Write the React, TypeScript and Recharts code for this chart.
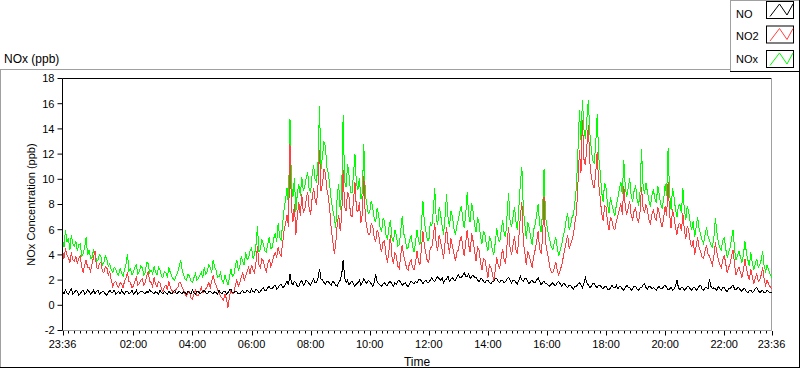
import React from 'react';
import { LineChart, Line, XAxis, YAxis, ReferenceLine, Legend } from 'recharts';

// 3-minute samples starting at 23:36 (481 points = 24 h); one row = one hour
const START_MIN = 23 * 60 + 36;
const STEP_MIN = 3;

const NOX_VALUES = [
  5.2, 4.6, 6.0, 5.0, 5.3, 4.4, 5.6, 4.9, 4.7, 5.1, 4.3, 4.8, 4.9, 3.9, 4.1, 4.6, 5.4, 4.0, 4.4, 3.7,
  3.8, 4.4, 4.2, 3.5, 3.6, 4.0, 3.9, 3.2, 3.4, 3.9, 3.7, 3.1, 3.3, 2.8, 2.6, 3.0, 2.9, 2.5, 2.4, 2.9,
  2.6, 2.3, 2.8, 3.3, 4.1, 2.7, 2.9, 2.4, 2.6, 3.0, 3.2, 2.5, 2.7, 3.1, 3.0, 2.4, 2.6, 3.4, 3.3, 2.6,
  2.8, 2.5, 3.1, 2.6, 2.4, 3.0, 2.8, 2.3, 2.2, 2.7, 2.6, 2.2, 3.0, 2.6, 2.3, 2.1, 2.0, 2.4, 2.6, 3.1,
  3.6, 2.8, 2.4, 2.1, 2.0, 2.5, 2.3, 1.9, 1.8, 2.2, 2.5, 2.0, 2.1, 2.4, 2.6, 2.2, 3.0, 2.5, 2.7, 3.2,
  3.0, 2.6, 3.6, 3.0, 2.8, 2.2, 2.3, 2.6, 2.0, 1.8, 2.4, 2.0, 1.6, 2.2, 2.9, 2.3, 2.4, 3.1, 3.6, 2.8,
  3.0, 3.9, 3.5, 3.2, 4.2, 3.6, 3.8, 4.3, 4.6, 3.7, 4.0, 4.8, 6.3, 4.2, 4.5, 5.2, 4.9, 4.3, 4.2, 4.9,
  5.4, 4.5, 4.6, 5.3, 5.7, 5.0, 6.5, 5.4, 5.2, 6.4, 7.6, 8.4, 9.3, 7.9, 14.8, 9.6, 8.6, 10.1, 7.4, 8.9,
  9.6, 8.7, 10.2, 9.1, 9.4, 10.1, 10.6, 9.2, 9.0, 10.4, 11.1, 10.0, 9.8, 11.4, 15.8, 10.8, 11.8, 13.0, 12.6, 10.9,
  10.5, 9.4, 8.3, 7.6, 7.0, 6.1, 8.8, 9.6, 7.6, 8.9, 15.1, 9.8, 9.4, 11.2, 10.3, 9.0, 8.9, 10.4, 12.0, 9.6,
  9.2, 10.1, 8.4, 9.0, 12.8, 8.8, 8.1, 7.3, 7.4, 8.3, 7.8, 6.9, 6.6, 7.7, 7.2, 6.2, 5.8, 6.9, 6.7, 5.6,
  5.2, 6.2, 6.8, 5.4, 5.0, 6.0, 5.6, 4.7, 4.8, 5.9, 7.1, 5.7, 5.3, 4.5, 4.6, 5.2, 5.5, 4.7, 4.2, 5.0,
  6.0, 5.2, 4.8, 6.4, 8.3, 6.6, 5.9, 5.2, 5.1, 6.6, 6.3, 7.4, 9.3, 6.9, 6.4, 7.8, 7.2, 6.3, 5.6, 7.1,
  8.8, 7.0, 6.2, 7.5, 7.0, 6.1, 5.6, 6.3, 6.8, 7.4, 7.9, 6.8, 6.1, 7.2, 9.0, 7.1, 6.6, 8.1, 7.4, 6.4,
  5.8, 7.0, 6.5, 5.5, 4.9, 5.9, 5.6, 4.8, 4.3, 5.4, 5.2, 4.4, 4.0, 5.0, 6.1, 5.3, 5.0, 5.9, 6.8, 5.7,
  5.4, 7.2, 8.9, 6.7, 6.2, 7.0, 7.8, 6.6, 6.0, 7.8, 9.7, 11.0, 7.6, 6.4, 5.3, 6.6, 6.1, 5.4, 4.8, 6.0,
  6.4, 7.2, 8.0, 6.5, 5.8, 7.4, 10.8, 7.0, 6.3, 5.6, 5.1, 4.6, 4.4, 5.0, 5.4, 4.5, 3.9, 4.4, 4.8, 5.5,
  6.0, 6.8, 7.3, 6.0, 6.4, 7.0, 7.2, 8.3, 9.5, 12.4, 15.5, 13.1, 16.3, 14.0, 13.2, 14.8, 16.3, 13.7, 12.4, 11.5,
  11.3, 12.8, 15.2, 11.8, 10.6, 9.0, 8.2, 9.7, 9.3, 8.0, 7.3, 8.6, 8.0, 7.5, 7.1, 8.0, 8.5, 9.2, 9.8, 8.8,
  11.5, 9.4, 8.6, 9.3, 10.1, 8.7, 8.2, 9.1, 9.5, 8.4, 7.9, 9.0, 12.4, 9.6, 8.8, 9.7, 9.0, 8.3, 7.8, 8.7,
  9.2, 8.5, 8.1, 9.5, 8.8, 8.0, 7.7, 8.4, 9.6, 8.7, 12.5, 8.9, 7.6, 9.3, 8.6, 7.6, 7.0, 7.9, 8.0, 7.3,
  9.3, 7.6, 6.8, 7.9, 7.4, 6.5, 6.0, 6.7, 5.4, 6.2, 7.0, 6.1, 5.6, 5.2, 4.9, 5.6, 6.2, 5.5, 5.2, 4.8,
  4.6, 5.4, 6.9, 5.8, 5.0, 4.6, 4.4, 5.1, 5.4, 4.5, 3.8, 4.2, 4.6, 5.3, 6.0, 4.4, 3.6, 4.0, 4.3, 3.8,
  3.4, 4.0, 5.1, 4.2, 3.6, 3.1, 4.2, 3.4, 2.8, 3.3, 3.7, 3.0, 3.2, 3.6, 4.3, 3.1, 2.7, 3.2, 2.8, 2.5,
  2.2,
];

const NO2_VALUES = [
  4.4, 3.7, 4.5, 4.0, 3.8, 3.4, 4.2, 3.6, 3.5, 3.9, 3.3, 3.7, 3.9, 3.1, 2.6, 3.2, 3.6, 3.0, 3.0, 2.7,
  3.3, 3.8, 4.3, 3.0, 2.9, 3.3, 3.4, 2.7, 2.6, 3.1, 3.0, 2.4, 2.7, 2.0, 1.5, 1.8, 1.9, 1.6, 1.4, 1.8,
  1.7, 1.4, 1.9, 2.2, 2.6, 1.9, 1.8, 1.4, 1.5, 1.9, 2.2, 1.6, 1.7, 2.0, 2.1, 1.6, 1.8, 2.3, 2.7, 1.9,
  1.8, 1.5, 2.2, 1.7, 1.5, 1.9, 1.8, 1.3, 1.1, 1.5, 1.6, 1.2, 1.9, 1.4, 1.2, 1.0, 1.0, 1.3, 1.4, 1.8,
  1.8, 1.4, 1.2, 0.9, 0.7, 1.0, 1.1, 0.6, 0.5, 0.9, 1.2, 0.8, 0.8, 1.1, 1.4, 1.0, 1.1, 1.3, 1.5, 1.8,
  1.4, 1.9, 2.4, 1.8, 1.6, 1.2, 1.0, 0.7, 0.6, 0.4, 0.9, 0.5, -0.2, 0.6, 1.3, 0.9, 1.0, 1.6, 2.0, 1.5,
  1.8, 2.2, 2.6, 2.0, 2.3, 2.7, 3.0, 2.5, 3.2, 2.8, 2.6, 3.4, 4.7, 3.2, 3.0, 3.7, 3.5, 3.0, 2.7, 3.3,
  3.7, 3.1, 3.4, 3.9, 4.2, 3.8, 4.6, 4.1, 3.9, 4.9, 5.9, 6.5, 7.2, 6.2, 12.8, 7.8, 6.6, 8.0, 5.6, 7.1,
  8.2, 7.1, 8.8, 7.4, 7.6, 8.4, 9.0, 7.7, 7.2, 8.5, 9.3, 8.4, 8.0, 9.6, 12.3, 9.1, 9.6, 10.8, 10.5, 9.2,
  8.6, 7.5, 6.0, 5.1, 4.1, 4.9, 6.4, 7.2, 5.9, 7.0, 10.7, 7.8, 7.5, 9.0, 8.6, 7.2, 7.0, 8.3, 9.8, 7.6,
  7.4, 8.2, 6.5, 7.3, 10.3, 7.0, 6.2, 5.6, 5.6, 6.5, 6.3, 5.4, 5.0, 6.0, 5.7, 4.8, 4.2, 5.0, 5.1, 4.0,
  3.4, 4.3, 5.6, 3.9, 3.3, 4.2, 3.9, 3.1, 2.9, 4.0, 4.8, 3.9, 3.5, 2.9, 2.8, 3.4, 3.6, 3.0, 2.8, 3.4,
  4.3, 3.5, 3.2, 4.5, 5.9, 4.7, 4.1, 3.5, 3.4, 4.6, 4.6, 5.4, 6.5, 4.9, 4.3, 5.6, 5.0, 4.4, 3.7, 5.0,
  6.2, 4.9, 4.1, 5.3, 4.7, 4.1, 3.5, 4.2, 4.4, 5.1, 5.5, 4.6, 3.9, 5.0, 6.0, 4.8, 4.2, 5.7, 5.1, 4.3,
  3.5, 4.6, 4.4, 3.4, 2.8, 3.7, 3.6, 2.9, 2.2, 3.2, 3.0, 2.5, 1.9, 2.8, 3.8, 3.2, 2.9, 3.8, 4.5, 3.6,
  3.3, 4.9, 6.2, 4.6, 4.0, 4.8, 5.5, 4.4, 4.1, 5.5, 7.1, 8.2, 5.0, 4.2, 3.2, 4.3, 3.9, 3.4, 3.0, 3.9,
  4.4, 5.1, 5.9, 4.5, 4.1, 5.3, 8.6, 5.0, 4.3, 3.7, 3.0, 2.6, 2.6, 3.0, 3.4, 2.7, 2.4, 2.8, 3.2, 3.8,
  4.4, 5.0, 5.6, 4.5, 4.8, 5.2, 5.7, 6.6, 7.4, 9.8, 12.3, 10.5, 14.7, 11.6, 11.1, 12.6, 14.3, 11.4, 10.2, 9.6,
  9.3, 10.5, 12.2, 9.6, 8.6, 7.3, 6.7, 7.9, 7.8, 6.6, 6.0, 7.0, 6.7, 6.1, 6.0, 6.7, 7.1, 7.6, 8.1, 7.2,
  9.5, 7.8, 7.2, 7.7, 8.3, 7.1, 6.8, 7.5, 7.7, 6.9, 6.6, 7.4, 9.4, 7.8, 7.3, 8.0, 7.6, 6.8, 6.5, 7.2,
  7.6, 7.0, 6.7, 7.8, 7.3, 6.6, 6.2, 6.9, 7.9, 7.1, 9.8, 7.3, 6.1, 7.6, 7.0, 6.2, 5.6, 6.4, 6.5, 5.9,
  7.3, 6.0, 5.3, 6.3, 5.9, 5.0, 4.6, 5.2, 4.0, 4.7, 5.4, 4.6, 4.3, 3.8, 3.7, 4.3, 4.8, 4.1, 3.9, 3.5,
  3.2, 3.9, 5.0, 4.2, 3.6, 3.2, 3.0, 3.6, 4.0, 3.3, 2.6, 3.0, 3.3, 3.9, 4.4, 3.2, 2.4, 2.8, 3.0, 2.6,
  2.2, 2.8, 3.7, 2.9, 2.4, 2.0, 2.9, 2.3, 1.7, 2.2, 2.5, 1.9, 2.0, 2.4, 3.0, 2.1, 1.6, 2.0, 1.7, 1.5,
  1.3,
];

const NO_VALUES = [
  1.1, 0.9, 1.2, 1.0, 0.9, 1.1, 1.3, 0.9, 1.0, 1.2, 1.1, 0.8, 0.9, 1.1, 1.2, 0.9, 1.0, 1.2, 1.1, 0.9,
  1.0, 1.2, 0.9, 1.1, 1.2, 0.9, 1.0, 1.1, 1.1, 0.9, 0.8, 1.0, 1.2, 1.0, 1.0, 1.2, 0.9, 1.0, 1.1, 0.9,
  1.2, 1.0, 0.9, 1.1, 1.1, 0.9, 1.0, 1.2, 0.9, 1.0, 1.2, 0.9, 1.0, 1.1, 1.1, 1.0, 0.9, 1.1, 1.0, 1.2,
  1.1, 1.0, 0.9, 1.1, 1.0, 0.9, 1.2, 1.0, 0.9, 1.1, 1.0, 0.9, 1.1, 1.0, 0.9, 1.1, 1.2, 0.9, 1.0, 1.1,
  1.0, 0.9, 1.1, 1.0, 0.9, 1.1, 1.0, 0.9, 1.2, 1.0, 0.9, 1.1, 1.1, 0.9, 1.0, 1.1, 1.2, 1.0, 0.9, 1.1,
  1.1, 1.0, 0.9, 1.1, 1.0, 0.9, 1.2, 1.0, 0.9, 1.1, 1.1, 0.9, 1.0, 1.2, 1.3, 1.0, 1.0, 1.1, 1.1, 0.9,
  0.9, 1.1, 1.2, 1.0, 1.0, 1.2, 1.1, 1.0, 1.3, 1.1, 1.0, 1.3, 1.2, 1.0, 1.1, 1.3, 1.4, 1.2, 1.2, 1.4,
  1.5, 1.3, 1.3, 1.5, 1.6, 1.3, 1.4, 1.6, 1.7, 1.4, 1.5, 1.7, 1.9, 1.6, 2.5, 1.8, 1.6, 1.9, 1.8, 1.5,
  1.5, 1.8, 2.0, 1.6, 1.7, 2.0, 1.9, 1.7, 1.6, 1.9, 2.1, 1.8, 1.8, 2.2, 2.9, 2.1, 2.0, 1.8, 1.7, 1.9,
  1.9, 1.7, 1.6, 1.9, 1.8, 1.6, 1.5, 1.8, 2.0, 2.4, 3.6, 2.2, 1.8, 2.0, 1.6, 1.8, 1.9, 1.7, 1.5, 1.7,
  1.8, 2.0, 1.6, 1.8, 2.1, 1.9, 1.7, 2.0, 1.9, 1.7, 1.5, 1.8, 2.5, 1.9, 1.7, 1.6, 1.5, 1.7, 1.8, 1.6,
  1.6, 1.8, 1.9, 1.7, 1.5, 1.8, 1.7, 1.9, 2.0, 1.8, 1.6, 1.7, 1.8, 1.6, 1.5, 1.7, 1.9, 1.8, 1.7, 1.9,
  1.8, 2.0, 2.1, 1.9, 1.7, 1.9, 2.0, 1.8, 1.8, 2.0, 2.2, 2.0, 1.9, 2.1, 2.3, 2.1, 2.0, 2.2, 1.8, 2.0,
  2.1, 2.3, 1.9, 2.1, 2.2, 2.0, 2.0, 2.2, 2.4, 2.2, 2.2, 2.4, 2.6, 2.3, 2.3, 2.5, 2.1, 2.3, 2.4, 2.2,
  2.2, 2.0, 1.9, 2.1, 2.1, 1.9, 1.8, 2.0, 2.0, 1.8, 1.7, 1.9, 1.9, 2.1, 2.1, 1.9, 1.8, 2.0, 2.0, 1.8,
  1.9, 2.1, 2.2, 2.0, 1.8, 2.0, 2.0, 1.8, 1.7, 2.0, 2.3, 2.0, 1.9, 2.1, 2.1, 1.9, 1.7, 1.9, 2.0, 1.8,
  1.8, 2.0, 2.2, 1.9, 1.6, 1.8, 1.9, 1.7, 1.7, 1.6, 1.5, 1.7, 1.8, 1.6, 1.6, 1.8, 1.9, 1.7, 1.5, 1.7,
  1.7, 1.5, 1.4, 1.6, 1.6, 1.4, 1.3, 1.5, 1.5, 1.7, 1.8, 1.6, 1.4, 1.7, 2.2, 1.8, 1.6, 1.4, 1.5, 1.7,
  1.7, 1.5, 1.4, 1.6, 1.6, 1.4, 1.3, 1.5, 1.5, 1.3, 1.2, 1.4, 1.6, 1.4, 1.4, 1.6, 1.3, 1.5, 1.5, 1.3,
  1.2, 1.4, 1.6, 1.4, 1.4, 1.2, 1.3, 1.5, 1.5, 1.3, 1.2, 1.4, 1.4, 1.6, 1.7, 1.4, 1.3, 1.5, 1.5, 1.3,
  1.4, 1.3, 1.2, 1.4, 1.5, 1.3, 1.3, 1.5, 1.6, 1.4, 1.2, 1.3, 1.4, 1.2, 1.3, 1.5, 2.0, 1.4, 1.2, 1.4,
  1.4, 1.2, 1.3, 1.5, 1.5, 1.3, 1.2, 1.4, 1.4, 1.2, 1.3, 1.5, 1.6, 1.3, 1.2, 1.4, 1.4, 1.3, 2.1, 1.5,
  1.3, 1.4, 1.3, 1.2, 1.5, 1.3, 1.2, 1.4, 1.4, 1.2, 1.1, 1.3, 1.3, 1.5, 1.6, 1.3, 1.2, 1.4, 1.4, 1.2,
  1.1, 1.3, 1.3, 1.1, 1.0, 1.2, 1.2, 1.0, 1.1, 1.3, 1.4, 1.2, 1.0, 1.1, 1.2, 1.0, 1.0, 1.2, 1.1, 1.0,
  1.0,
];

const Y_TICKS = [-2, 0, 2, 4, 6, 8, 10, 12, 14, 16, 18];
const X_TICK_STEP = 12; // minor tick every 12 min
const X_SPAN = 1440;
const X_TICKS = Array.from({ length: X_SPAN / X_TICK_STEP + 1 }, (_, i) => i * X_TICK_STEP);

const SERIES = [
  { key: 'NO', color: '#000000' },
  { key: 'NO2', color: '#ff4040' },
  { key: 'NOx', color: '#00ff00' },
];

const data = NOX_VALUES.map((v, i) => ({
  t: i * STEP_MIN,
  NOx: v,
  NO2: NO2_VALUES[i],
  NO: NO_VALUES[i],
}));

const FONT = '"Liberation Sans", Arial, sans-serif';

const fmtClock = (m: number) => {
  const h = Math.floor(m / 60);
  const mm = m % 60;
  return `${String(h).padStart(2, '0')}:${String(mm).padStart(2, '0')}`;
};

const renderXTick = (props: any) => {
  const { x, y, payload } = props;
  const v = payload.value as number;
  const clock = (START_MIN + v) % 1440;
  const major = v === 0 || v === X_SPAN || (clock % 120 === 0 && clock !== 0);
  const xx = Math.round(x) + 0.5;
  return (
    <g>
      <line x1={xx} x2={xx} y1={y + 0.5} y2={y + (major ? 5 : 3)} stroke="#000" strokeWidth={1} />
      {major && (
        <text x={x} y={y + 17.5} textAnchor="middle" fontSize={11} fill="#000" fontFamily={FONT}>
          {fmtClock(clock)}
        </text>
      )}
    </g>
  );
};

const BOX_TOPS = [1, 25.5, 50];
const TEXT_BASE = [17.5, 40, 62.5];

const renderLegend = () => (
  <svg width={70} height={72} style={{ display: 'block' }}>
    <rect x={0} y={0} width={70} height={72} fill="#fff" />
    <line x1={0.5} y1={0} x2={0.5} y2={72} stroke="#a0a0a0" />
    <line x1={0} y1={0.5} x2={70} y2={0.5} stroke="#a0a0a0" />
    <line x1={0} y1={71.5} x2={70} y2={71.5} stroke="#000" />
    <line x1={69.5} y1={0} x2={69.5} y2={72} stroke="#000" />
    {SERIES.map((s, i) => {
      const top = BOX_TOPS[i];
      const bx = 36.5;
      return (
        <g key={s.key}>
          <text x={6} y={TEXT_BASE[i]} fontSize={11} fill="#000" fontFamily={FONT}>
            {s.key}
          </text>
          <rect x={bx} y={top + 0.5} width={27} height={17} fill="#fff" stroke="#000" />
          <polyline
            points={`${bx + 3.5},${top + 15.5} ${bx + 13},${top + 3} ${bx + 20.5},${top + 14} ${bx + 26.5},${top + 3}`}
            fill="none"
            stroke={s.color}
            strokeWidth={1}
          />
        </g>
      );
    })}
  </svg>
);

export default function App() {
  return (
    <div style={{ position: 'absolute', left: 0, top: 0, width: 800, height: 369, background: '#fff', fontFamily: FONT }}>
      <style>{'.recharts-line-curve { shape-rendering: crispEdges; }'}</style>
      <svg width={800} height={369} style={{ position: 'absolute', left: 0, top: 0 }}>
        <line x1={0} y1={69.5} x2={730} y2={69.5} stroke="#a0a0a0" />
        <line x1={0.5} y1={69} x2={0.5} y2={368} stroke="#a0a0a0" />
        <line x1={0} y1={367.5} x2={800} y2={367.5} stroke="#000" />
        <line x1={799.5} y1={72} x2={799.5} y2={368} stroke="#000" />
        <text x={4} y={63} fontSize={12} fill="#000" fontFamily={FONT}>NOx (ppb)</text>
      </svg>
      <div style={{ position: 'absolute', left: 0, top: 0 }}>
        <LineChart
          width={800}
          height={369}
          data={data}
          margin={{ top: 78.5, right: 28.5, bottom: 0, left: 0 }}
        >
          <XAxis
            dataKey="t"
            type="number"
            domain={[0, X_SPAN]}
            ticks={X_TICKS}
            interval={0}
            tick={renderXTick}
            tickLine={false}
            tickSize={0}
            tickMargin={0}
            axisLine={{ stroke: '#a0a0a0' }}
            height={38.5}
            label={{ value: 'Time', position: 'insideBottom', offset: 3, fill: '#000', fontSize: 12, fontFamily: FONT }}
          />
          <YAxis
            type="number"
            domain={[-2, 18]}
            ticks={Y_TICKS}
            interval={0}
            width={62.5}
            tickSize={5}
            tickMargin={3}
            tick={{ fill: '#000', fontSize: 11, fontFamily: FONT }}
            tickLine={{ stroke: '#000' }}
            axisLine={{ stroke: '#000' }}
            label={{ value: 'NOx Concentration (ppb)', angle: -90, position: 'center', dx: -0.5, fill: '#000', fontSize: 11, fontFamily: FONT }}
          />
          <ReferenceLine y={18} stroke="#000" strokeWidth={1} />
          <ReferenceLine x={X_SPAN} stroke="#a0a0a0" strokeWidth={1} />
          <Line type="linear" dataKey="NOx" name="NOx" stroke="#00ff00" strokeWidth={1} dot={false} isAnimationActive={false} />
          <Line type="linear" dataKey="NO2" name="NO2" stroke="#ff4040" strokeWidth={1} dot={false} isAnimationActive={false} />
          <Line type="linear" dataKey="NO" name="NO" stroke="#000000" strokeWidth={1} dot={false} isAnimationActive={false} />
          <Legend
            layout="horizontal"
            verticalAlign="middle"
            align="center"
            content={renderLegend}
            wrapperStyle={{ position: 'absolute', top: 0, left: 730, width: 70, height: 72, margin: 0, padding: 0 }}
          />
        </LineChart>
      </div>
    </div>
  );
}
